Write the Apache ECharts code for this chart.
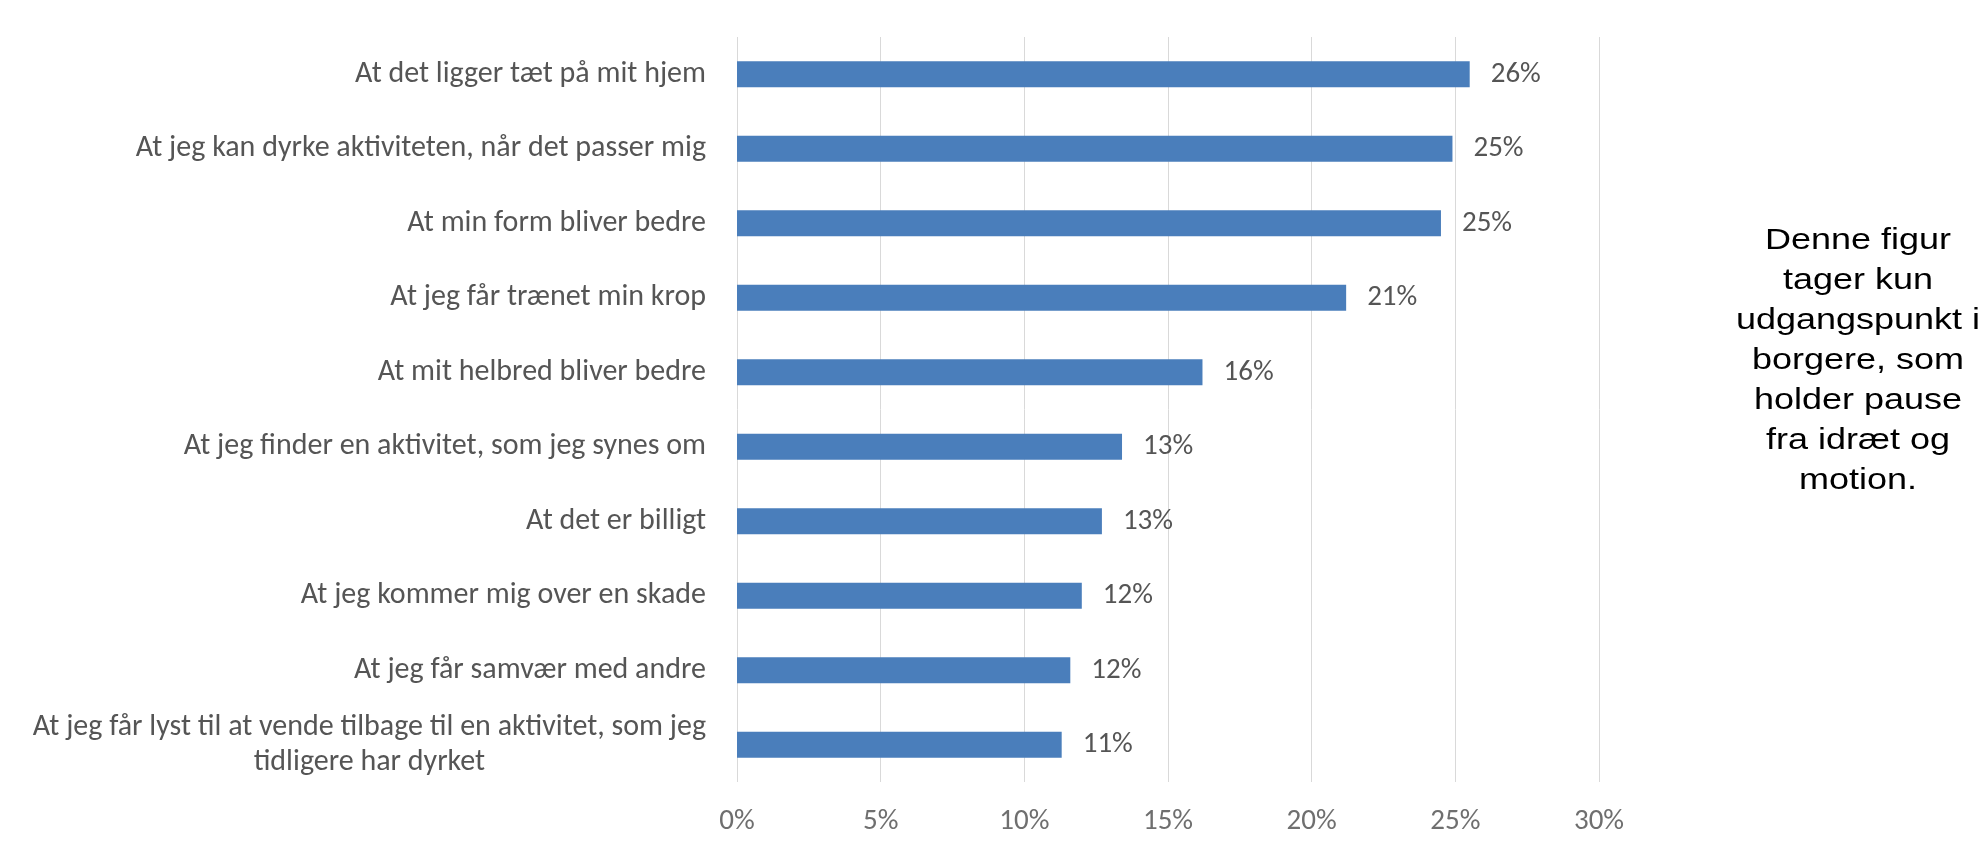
<!DOCTYPE html>
<html>
<head>
<meta charset="utf-8">
<title>Motivation</title>
<script src="https://cdn.jsdelivr.net/npm/echarts@6/dist/echarts.min.js"></script>
<style>
html, body { margin: 0; padding: 0; background: #ffffff; }
#echart1 { width: 1987px; height: 848px; }
</style>
</head>
<body>
<div id="echart1"></div>
<script>
// kategorier (top til bund)
var categories = [
	'At det ligger tæt på mit hjem',
	'At jeg kan dyrke aktiviteten, når det passer mig',
	'At min form bliver bedre',
	'At jeg får trænet min krop',
	'At mit helbred bliver bedre',
	'At jeg finder en aktivitet, som jeg synes om',
	'At det er billigt',
	'At jeg kommer mig over en skade',
	'At jeg får samvær med andre',
	'At jeg får lyst til at vende tilbage til en aktivitet, som jeg\ntidligere har dyrket'
];
// andel i procent, aflæst fra søjlerne
var values = [25.5, 24.9, 24.5, 21.2, 16.2, 13.4, 12.7, 12.0, 11.6, 11.3];
// de viste dataetiketter
var valueLabels = ['26%', '25%', '25%', '21%', '16%', '13%', '13%', '12%', '12%', '11%'];
// x-aksen
var xTicks = [0, 5, 10, 15, 20, 25, 30];

var noteText = 'Denne figur\ntager kun\nudgangspunkt i\nborgere, som\nholder pause\nfra idræt og\nmotion.';

var labelFont = 'Carlito, Lato, "Open Sans", sans-serif';

function chartDiv() {
	var option = {
		animation : false,
		grid : {
			left : 737,
			right : 388,
			top : 37,
			bottom : 66
		},
		xAxis : {
			type : 'value',
			min : xTicks[0],
			max : xTicks[xTicks.length - 1],
			interval : xTicks[1] - xTicks[0],
			axisLine : { show : false },
			axisTick : { show : false },
			splitLine : {
				show : true,
				lineStyle : { color : '#d9d9d9', width : 1 }
			},
			axisLabel : {
				formatter : '{value}%',
				margin : 25,
				fontFamily : labelFont,
				fontSize : 29,
				color : '#6f6f6f'
			}
		},
		yAxis : {
			type : 'category',
			inverse : true,
			data : categories,
			axisLine : { show : false },
			axisTick : { show : false },
			splitLine : { show : false },
			axisLabel : {
				margin : 31,
				formatter : function(val) {
					// hver linje centreres i blokken, blokken højrestilles
					return val.split('\n').map(function(s) {
						return '{a|' + s + '}';
					}).join('\n');
				},
				rich : {
					a : {
						align : 'center',
						fontFamily : labelFont,
						fontSize : 30,
						lineHeight : 35,
						color : '#555555'
					}
				}
			}
		},
		series : [ {
			type : 'bar',
			data : values,
			barWidth : 26,
			itemStyle : {
				color : '#4a7ebb'
			},
			label : {
				show : true,
				position : 'right',
				distance : 21,
				fontFamily : labelFont,
				fontSize : 29,
				color : '#555555',
				formatter : function(p) {
					return valueLabels[p.dataIndex];
				}
			}
		} ],
		graphic : [ {
			type : 'text',
			x : 1858,
			y : 221,
			scaleX : 1.2,
			style : {
				x : 0,
				y : 0,
				text : noteText,
				textAlign : 'center',
				textVerticalAlign : 'top',
				font : '30px "Liberation Sans", Arial, sans-serif',
				lineHeight : 40,
				fill : '#000000'
			}
		} ]
	};
	var myCharts1 = echarts.init(document.getElementById('echart1'));
	myCharts1.setOption(option, true);
}

chartDiv();
</script>
</body>
</html>
